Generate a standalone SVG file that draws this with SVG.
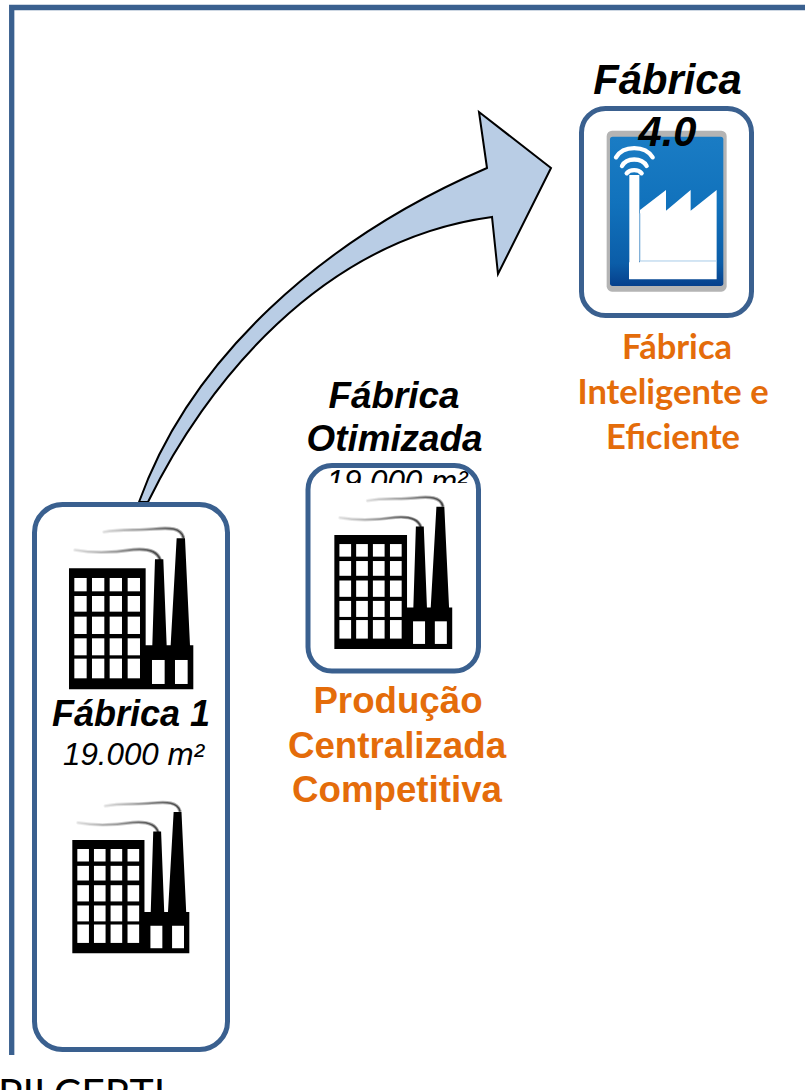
<svg xmlns="http://www.w3.org/2000/svg" width="805" height="1090" viewBox="0 0 805 1090">
<style>
.box{fill:#fff;stroke:#3A608F;stroke-width:5}
.t{font-family:"Liberation Sans",Arial,sans-serif;text-anchor:middle}
.bi{font-weight:bold;font-style:italic;fill:#000}
.i{font-style:italic;fill:#000}
.ob{font-weight:bold;fill:#E46C0A}
.lato{font-family:Lato,"Noto Sans",sans-serif;font-weight:bold;fill:#E46C0A;text-anchor:middle;font-size:34.500px}
.wifi{fill:none;stroke:#fff;stroke-width:13;stroke-linecap:round}
.smoke{fill:none;stroke:url(#smokeGrad);stroke-linecap:round}
</style>
<defs>
<linearGradient id="smokeGrad" x1="0" y1="0" x2="1" y2="0">
<stop offset="0" stop-color="#ddd"/><stop offset=".5" stop-color="#999"/><stop offset="1" stop-color="#444"/>
</linearGradient>
<symbol id="factory" overflow="visible">
<g class="smoke" stroke-width="11" opacity=".45">
<path d="M252,96C300,86 350,92 400,87C450,82 482,84 490,112"/>
<path d="M165,150C220,160 280,158 340,149C375,146 410,150 420,178"/>
</g>
<g class="smoke" stroke-width="5">
<path d="M252,96C300,86 350,92 400,87C450,82 482,84 490,112"/>
<path d="M165,150C220,160 280,158 340,149C375,146 410,150 420,178"/>
</g>
<path fill="#000" d="M147,205H377V436H397L405,178H430L440,436H452L470,115H495L510,436H520V568H147Z"/>
<g fill="#fff">
<rect x="163" y="234" width="37" height="40"/><rect x="216" y="234" width="37" height="40"/><rect x="269" y="234" width="37" height="40"/><rect x="323" y="234" width="37" height="40"/>
<rect x="163" y="288" width="37" height="47"/><rect x="216" y="288" width="37" height="47"/><rect x="269" y="288" width="37" height="47"/><rect x="323" y="288" width="37" height="47"/>
<rect x="163" y="350" width="37" height="52"/><rect x="216" y="350" width="37" height="52"/><rect x="269" y="350" width="37" height="52"/><rect x="323" y="350" width="37" height="52"/>
<rect x="163" y="415" width="37" height="51"/><rect x="216" y="415" width="37" height="51"/><rect x="269" y="415" width="37" height="51"/><rect x="323" y="415" width="37" height="51"/>
<rect x="163" y="476" width="37" height="59"/><rect x="216" y="476" width="37" height="59"/><rect x="269" y="476" width="37" height="59"/><rect x="323" y="476" width="37" height="59"/>
<rect x="396" y="480" width="38" height="72"/><rect x="465" y="480" width="38" height="72"/>
</g>
</symbol>
<linearGradient id="blue" x1="0" y1="0" x2="0" y2="1">
<stop offset="0" stop-color="#1A7CC4"/><stop offset=".45" stop-color="#1172BC"/><stop offset=".85" stop-color="#0B5DA8"/><stop offset="1" stop-color="#06408C"/>
</linearGradient>
</defs>
<rect width="805" height="1090" fill="#fff"/>
<path id="frame" d="M805,7.500H11.700V1055" fill="none" stroke="#3A608F" stroke-width="5.300"/>
<g id="connectors">
<path d="M139,502C190,360 320,240 487,168L479,112L551,168L498,274L492,217C320,240 205,385 148,502Z" fill="#B9CDE5" stroke="#000" stroke-width="2" stroke-linejoin="miter"/>
</g>
<g id="node-fabrica-1">
<rect class="box" x="34.500" y="504.500" width="193" height="545" rx="28"/>
<use href="#factory" transform="translate(20,500) scale(.3333)"/>
<text class="t bi" x="131" y="726" font-size="36">Fábrica 1</text>
<text class="t i" x="133.500" y="765" font-size="31.300">19.000 m²</text>
<use href="#factory" transform="translate(26.200,776) scale(.3137,.312)"/>
</g>
<g id="node-fabrica-otimizada">
<text class="t bi" x="394" y="408" font-size="36.800">Fábrica</text>
<text class="t bi" x="394.500" y="451" font-size="36.800">Otimizada</text>
<text class="t i" x="397" y="492" font-size="31.300">19.000 m²</text>
<rect x="311" y="483" width="165" height="20" fill="#fff"/>
<rect x="308" y="465.500" width="170.500" height="205.500" rx="24" fill="none" stroke="#3A608F" stroke-width="5"/>
<use href="#factory" transform="translate(287.900,470.600) scale(.316,.314)"/>
<text class="t ob" x="398" y="713" font-size="36.700">Produção</text>
<text class="t ob" x="397" y="758" font-size="36.700">Centralizada</text>
<text class="t ob" x="397" y="802" font-size="36.700">Competitiva</text>
</g>
<g id="node-fabrica-40">
<rect class="box" x="581.500" y="108.500" width="170" height="207" rx="24"/>
<g transform="translate(560,40) scale(.3333)">
<rect x="140" y="272" width="360" height="483" rx="16" fill="#B4B4B4"/>
<rect x="150" y="290" width="340" height="448" rx="8" fill="url(#blue)"/>
<path class="wifi" d="M168,352C190,315 255,315 278,352"/>
<path class="wifi" d="M186,378C200,352 245,352 260,378"/>
<path class="wifi" d="M200,400C210,387 235,387 245,400"/>
<path fill="#fff" d="M208,405H238V667H208ZM240,510L318,450V512L392,450V512L470,450V667H240ZM207,667H470V718H207Z"/>
<path d="M240,520V663H470" fill="none" stroke="#A8CBE8" stroke-width="3"/>
</g>
<text class="t bi" x="667.500" y="94" font-size="41.700">Fábrica</text>
<text class="t bi" x="667.500" y="146" font-size="41.700">4.0</text>
<text class="lato" x="677" y="359">Fábrica</text>
<text class="lato" x="673" y="404">Inteligente e</text>
<text class="lato" x="673" y="449">Eficiente</text>
</g>
<text x="-2" y="1108" font-family="Lato,'Noto Sans',sans-serif" font-size="41" fill="#000">PILCERTI</text>
</svg>
